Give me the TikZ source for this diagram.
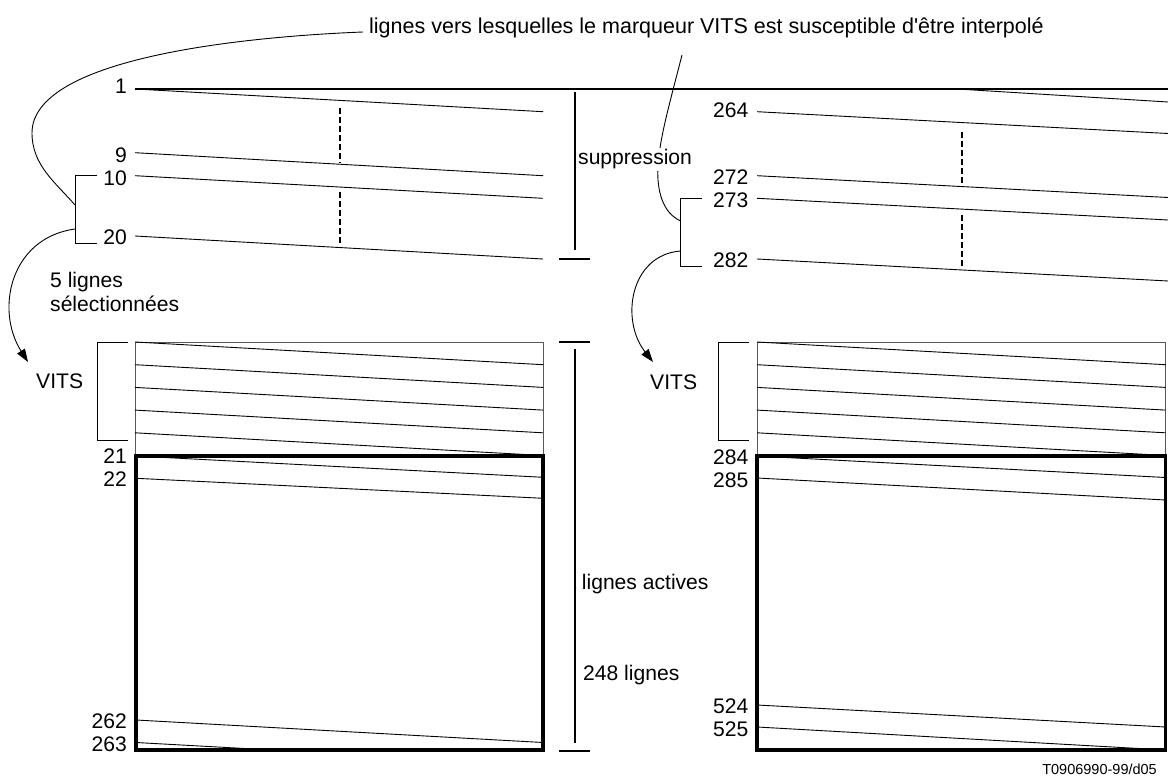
\documentclass[tikz,border=0pt]{standalone}
\usepackage{fontspec}
\setmainfont{Liberation Sans}[Ligatures=TeXOff]
\usetikzlibrary{arrows.meta}
\begin{document}
\begin{tikzpicture}[x=1pt,y=-1pt,
  lbl/.style={font=\fontsize{21.1}{24}\selectfont, inner sep=0pt},
  ln/.style={line width=0.9pt},
  heavy/.style={line width=3.6pt},
  barline/.style={line width=2pt},
  dsh/.style={line width=1.1pt, dash pattern=on 6pt off 3pt},
  brk/.style={line width=0.9pt},
  arr/.style={line width=0.9pt,-{Triangle[length=13pt,width=9pt]}},
  vbox/.style={line width=0.9pt, draw=black!65}
]
\useasboundingbox (0,0) rectangle (1168,778);

% ---------- title ----------
\node[lbl, font=\fontsize{21.5}{24}\selectfont, anchor=base west] (title) at (369,34) {lignes vers lesquelles le marqueur VITS est susceptible d'être interpolé};
\coordinate (tstart) at (363,32);
\coordinate (rtop) at (682,55);

% ---------- top line ----------
\draw[barline] (135,89) -- (1168,89);

% ---------- left field (upper) ----------
\draw[ln] (135,89) -- (543,111.7);
\draw[ln] (135,152.7) -- (543,175.7);
\draw[ln] (135,175.7) -- (543,198.3);
\draw[ln] (135,236) -- (543,259);
\draw[dsh] (340,108) -- (340,163);
\draw[dsh] (340,192) -- (340,244);

\node[lbl, anchor=base east] (n1) at (127,94) {1};
\node[lbl, anchor=base east] (n9) at (127,162.7) {9};
\node[lbl, anchor=base east] (n10) at (127,185.7) {10};
\node[lbl, anchor=base east] (n20) at (127,245) {20};

\draw[brk] (97,175.5) -- (75,175.5) -- (75,243.3) -- (97,243.3);
\coordinate (bl1) at (75,205);
\coordinate (bl2) at (75,229);

% suppression bar
\draw[barline] (575,92) -- (575,250);
\draw[barline] (559,259) -- (590,259);

% ---------- right field (upper) ----------
\draw[ln] (957,89) -- (1168,102);
\draw[ln] (757,111.7) -- (1168,133.5);
\draw[ln] (757,175.7) -- (1168,197.5);
\draw[ln] (757,198.3) -- (1168,220);
\draw[ln] (757,259) -- (1168,281);
\draw[dsh] (962,132) -- (962,184);
\draw[dsh] (962,215) -- (962,268);

\node[lbl, anchor=base east] (n264) at (748.5,117.3) {264};
\node[lbl, anchor=base east] (n272) at (748.5,185) {272};
\node[lbl, anchor=base east] (n273) at (748.5,207.7) {273};
\node[lbl, anchor=base east] (n282) at (748.5,267.7) {282};

\draw[brk] (702,198.3) -- (680.5,198.3) -- (680.5,266) -- (702,266);
\coordinate (br1) at (680.5,221);
\coordinate (br2) at (680.5,251);

% ---------- curves ----------
\draw[brk] (tstart) .. controls (260,36) and (32,55) .. (32,133)
                    .. controls (32,165) and (55,182) .. (bl1);
\draw[brk] (rtop) .. controls (668,110) and (656,150) .. (658,180)
                  .. controls (660,205) and (670,216) .. (br1);

\node[lbl, anchor=base west, fill=white, inner sep=2pt] (supp) at (576,165) {suppression};

\coordinate (vl) at (28,362);
\coordinate (vr) at (653,362);
\draw[arr] (bl2) .. controls (10,238) and (-5,310) .. (vl);
\draw[arr] (br2) .. controls (630,255) and (620,320) .. (vr);

\node[lbl, anchor=base west] (sel1) at (50,287.7) {5 lignes};
\node[lbl, anchor=base west] (sel2) at (50,311.7) {sélectionnées};

% ---------- left frame ----------
\draw[vbox] (135,342) rectangle (543,455);
\foreach \k in {0,...,4}{
  \draw[ln] (135,{342+22.7*\k}) -- (543,{342+22.7*(\k+1)});
}
\draw[ln] (136,456) -- (543,477.3);
\draw[ln] (136,478.3) -- (543,498.3);
\draw[ln] (136,720) -- (543,742.5);
\draw[ln] (136,742.5) -- (272,750);
\draw[heavy] (136,456) rectangle (543,750);

\draw[brk] (127.7,342) -- (97.7,342) -- (97.7,440.7) -- (127.7,440.7);
\node[lbl, anchor=base west] (vitsL) at (36,388.3) {VITS};

\node[lbl, anchor=base east] (n21) at (127,463.3) {21};
\node[lbl, anchor=base east] (n22) at (127,486.7) {22};
\node[lbl, anchor=base east] (n262) at (127,728.3) {262};
\node[lbl, anchor=base east] (n263) at (127,751.7) {263};

% active lines bar
\draw[barline] (559,341.7) -- (590,341.7);
\draw[barline] (575,349) -- (575,743);
\draw[barline] (559,750.7) -- (590,750.7);
\node[lbl, anchor=base west] (act) at (581.7,589.3) {lignes actives};
\node[lbl, anchor=base west] (l248) at (583,680) {248 lignes};

% ---------- right frame ----------
\draw[vbox] (757,342) rectangle (1165.5,455);
\foreach \k in {0,...,4}{
  \draw[ln] (757,{342+22.7*\k}) -- (1165.5,{342+22.7*(\k+1)});
}
\draw[ln] (757,456) -- (1165.5,477.5);
\draw[ln] (757,478) -- (1165.5,500);
\draw[ln] (757,705) -- (1165.5,727);
\draw[ln] (757,727) -- (1165.5,750);
\draw[heavy] (757,456) rectangle (1165.5,750);

\draw[brk] (749,342) -- (718,342) -- (718,440) -- (749,440);
\node[lbl, anchor=base west] (vitsR) at (650,389) {VITS};

\node[lbl, anchor=base east] (n284) at (748.5,464.3) {284};
\node[lbl, anchor=base east] (n285) at (748.5,487.3) {285};
\node[lbl, anchor=base east] (n524) at (748.5,713) {524};
\node[lbl, anchor=base east] (n525) at (748.5,736) {525};

\node[font=\fontsize{14.5}{17}\selectfont, inner sep=0pt, anchor=base east] (ref) at (1157,774) {T0906990-99/d05};
\end{tikzpicture}
\end{document}
